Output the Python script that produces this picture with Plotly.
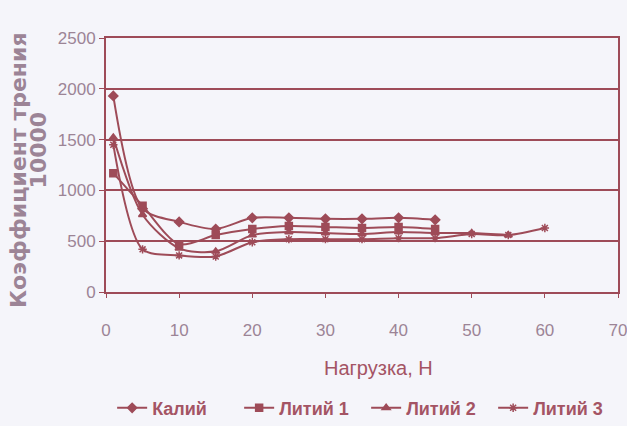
import plotly.graph_objects as go

# Data
x_main = [1, 5, 10, 15, 20, 25, 30, 35, 40, 45]
kaliy = [1930, 820, 690, 620, 730, 730, 720, 720, 730, 710]

litiy1 = [1170, 850, 470, 560, 620, 650, 640, 630, 640, 620]

x_l2 = [1, 5, 10, 15, 20, 25, 30, 35, 40, 45, 50, 55]
litiy2 = [1520, 760, 430, 400, 560, 590, 580, 570, 590, 580, 580, 560]

x_l3 = [1, 5, 10, 15, 20, 25, 30, 35, 40, 45, 50, 55, 60]
litiy3 = [1450, 420, 360, 350, 490, 520, 520, 520, 530, 530, 570, 560, 630]

names = ["Калий", "Литий 1", "Литий 2", "Литий 3"]
x_ticks = [0, 10, 20, 30, 40, 50, 60, 70]
y_ticks = [0, 500, 1000, 1500, 2000, 2500]
y_title_lines = ["Коэффициент трения", "10000"]
x_title = "Нагрузка, Н"

LINE = "#9e4b58"
TICK = "#9c8496"
TITLE = "#a45464"
BG = "#f5f5fa"
FONT = "Liberation Sans, Arial, sans-serif"

series = [
    (x_main, kaliy, names[0], "diamond"),
    (x_main, litiy1, names[1], "square"),
    (x_l2, litiy2, names[2], "triangle-up"),
    (x_l3, litiy3, names[3], "asterisk"),
]

fig = go.Figure()
for xs, ys, nm, sym in series:
    fig.add_trace(go.Scatter(
        x=xs, y=ys, name=nm, mode="lines+markers",
        line=dict(color=LINE, width=2, shape="spline", smoothing=0.8),
        marker=dict(symbol=sym, size=7, color=LINE,
                    line=dict(color=LINE, width=1.5)),
    ))

fig.update_layout(
    width=627, height=426,
    paper_bgcolor=BG, plot_bgcolor=BG,
    margin=dict(l=106, r=9, t=38, b=134, autoexpand=False),
    font=dict(family=FONT, color=TICK, size=17),
    showlegend=True,
    legend=dict(
        orientation="h", x=0.012, xanchor="left", y=-0.457, yanchor="middle",
        font=dict(size=18, color=TITLE, family=FONT, weight="bold"),
        bgcolor="rgba(0,0,0,0)", tracegroupgap=0,
        entrywidth=82, entrywidthmode="pixels",
    ),
)

fig.update_xaxes(
    range=[0, 70], tickvals=x_ticks, ticktext=[str(v) for v in x_ticks],
    showgrid=False, zeroline=False, automargin=False,
    showline=True, linecolor=LINE, linewidth=2, mirror=True,
    ticks="outside", ticklen=4, tickcolor=LINE, tickwidth=1,
    ticklabelstandoff=18, ticklabeloverflow="allow",
    tickfont=dict(size=17, color=TICK),
)
fig.update_yaxes(
    range=[0, 2500], tickvals=y_ticks, ticktext=[str(v) for v in y_ticks],
    showgrid=True, gridcolor=LINE, gridwidth=2, zeroline=False, automargin=False,
    showline=True, linecolor=LINE, linewidth=2, mirror=True,
    ticks="outside", ticklen=5, tickcolor=LINE, tickwidth=1,
    ticklabeloverflow="allow",
    tickfont=dict(size=17, color=TICK),
)

# y-axis title (two rotated lines)
for txt, xp, yp in zip(y_title_lines, [-0.172, -0.132], [0.48, 0.559]):
    fig.add_annotation(
        text=txt, textangle=-90,
        xref="paper", yref="paper", x=xp, y=yp,
        xanchor="center", yanchor="middle", showarrow=False,
        font=dict(size=22, color=TICK, family="DejaVu Sans, sans-serif", weight="bold"),
    )

# x-axis title
fig.add_annotation(
    text=x_title, xref="paper", yref="paper", x=0.533, y=-0.30,
    xanchor="center", yanchor="middle", showarrow=False,
    font=dict(size=20, color=TITLE, family=FONT),
)

fig.write_html("out.html", config={"displayModeBar": False},
               post_script="document.body.style.margin='0';")
